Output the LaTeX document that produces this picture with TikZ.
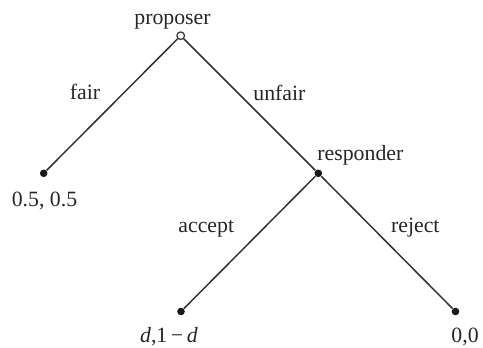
\documentclass[tikz,border=0pt]{standalone}
\usepackage{fontspec}
\setmainfont{Liberation Serif}
\begin{document}
\begin{tikzpicture}[x=0.5pt, y=-0.5pt,
    lbl/.style={inner sep=0pt, text=black!85, font=\fontsize{10.9}{13}\selectfont},
    opennode/.style={draw=black!80, circle, fill=white, inner sep=0pt, minimum size=3.8pt, line width=0.6pt},
    leafnode/.style={fill=black!90, circle, inner sep=0pt, minimum size=3.8pt},
    branch/.style={draw=black!80, line width=0.75pt}]
    \useasboundingbox (0,0) rectangle (483,348);
    % decision nodes and leaves
    \node[opennode] (prop) at (180.7,35.7) {};
    \node[leafnode] (fair) at (43.7,173.3) {};
    \node[leafnode] (resp) at (318.3,173.3) {};
    \node[leafnode] (acc) at (181,311.5) {};
    \node[leafnode] (rej) at (455.5,311.5) {};
    \draw[branch] (prop) -- (fair);
    \draw[branch] (prop) -- (resp);
    \draw[branch] (resp) -- (acc);
    \draw[branch] (resp) -- (rej);
    % labels
    \node[lbl, anchor=base] (proplbl) at (172.5,24.5) {proposer};
    \node[lbl, anchor=base] (fairlbl) at (85,99) {fair};
    \node[lbl, anchor=base west] (unfairlbl) at (253,100.7) {unfair};
    \node[lbl, anchor=base west] (resplbl) at (317,160.7) {responder};
    \node[lbl, anchor=base west] (acclbl) at (178,232) {accept};
    \node[lbl, anchor=base west] (rejlbl) at (390.7,232) {reject};
    \node[lbl, anchor=base] (fairpay) at (44.5,206) {0.5, 0.5};
    \node[lbl, anchor=base] (accpay) at (169,342) {\textit{d},1\,−\,\textit{d}};
    \node[lbl, anchor=base west] (rejpay) at (451,342) {0,0};
\end{tikzpicture}
\end{document}
